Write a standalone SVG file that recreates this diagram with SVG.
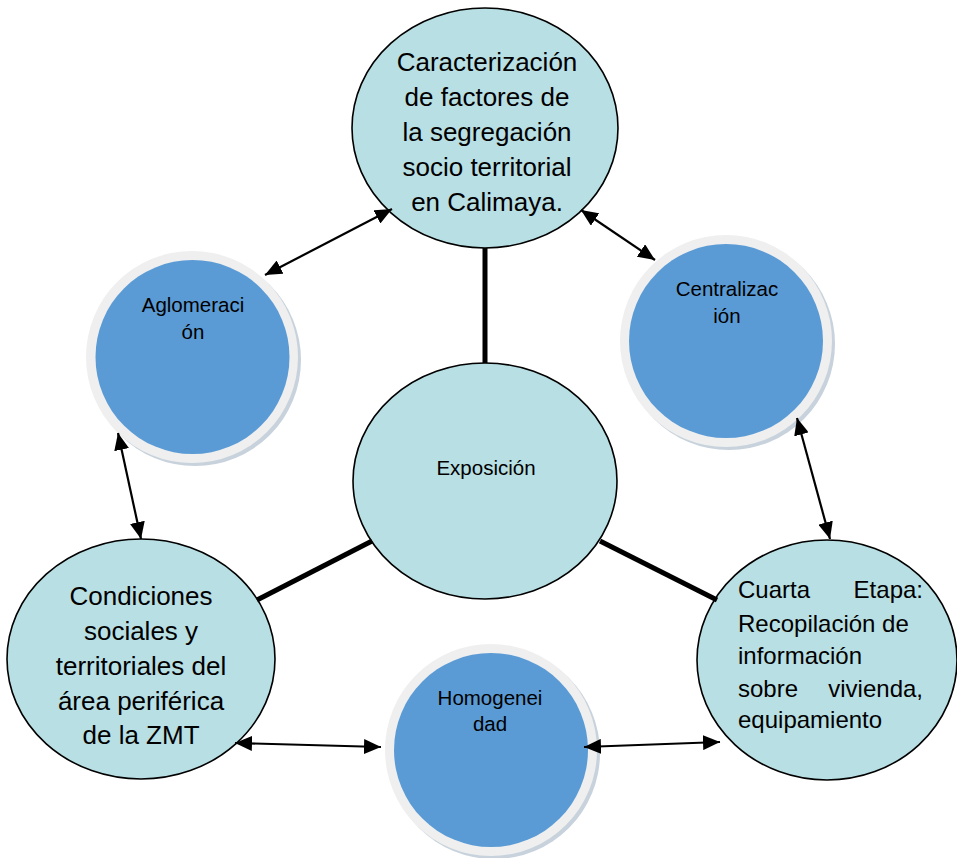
<svg xmlns="http://www.w3.org/2000/svg" width="957" height="858" viewBox="0 0 957 858">
<defs>
<style>
.ell{fill:#b8dfe3;stroke:#000;stroke-width:1.6}
.shadow{fill:#c7d2dc}
.ring{fill:#efefef}
.blue{fill:#5b9bd5}
.big{font-family:"Liberation Sans",Arial,sans-serif;font-size:26px;fill:#000;text-anchor:middle}
.mid{font-family:"Liberation Sans",Arial,sans-serif;font-size:24px;fill:#000}
.small{font-family:"Liberation Sans",Arial,sans-serif;font-size:20.5px;fill:#000;text-anchor:middle}
.thick{stroke:#000;stroke-width:5;fill:none}
.arr{stroke:#000;stroke-width:2.2;fill:none;marker-start:url(#ah);marker-end:url(#ah)}
</style>
<marker id="ah" markerUnits="userSpaceOnUse" markerWidth="17" markerHeight="15" refX="17" refY="7.5" orient="auto-start-reverse" viewBox="0 0 17 15">
<path d="M0,0 L17,7.5 L0,15 z" fill="#000"/>
</marker>
</defs>
<rect width="957" height="858" fill="#fff"/>
<g id="caracterizacion">
<ellipse class="ell" cx="485" cy="128" rx="133" ry="120"/>
<text class="big" x="487" y="71">Caracterización</text>
<text class="big" x="487" y="106">de factores de</text>
<text class="big" x="487" y="141">la segregación</text>
<text class="big" x="487" y="176">socio territorial</text>
<text class="big" x="487" y="211">en Calimaya.</text>
</g>
<g id="exposicion">
<ellipse class="ell" cx="485" cy="481" rx="132" ry="118"/>
<text class="small" x="486" y="475">Exposición</text>
</g>
<g id="aglomeracion">
<circle class="shadow" cx="195" cy="360" r="106"/>
<circle class="ring" cx="192" cy="357" r="106"/>
<circle class="blue" cx="192.5" cy="357" r="97"/>
<text class="small" x="193" y="312">Aglomeraci</text>
<text class="small" x="193" y="339">ón</text>
</g>
<g id="centralizacion">
<circle class="shadow" cx="729" cy="344" r="106"/>
<circle class="ring" cx="726" cy="341" r="106"/>
<circle class="blue" cx="726" cy="341" r="97"/>
<text class="small" x="727" y="296">Centralizac</text>
<text class="small" x="727" y="323">ión</text>
</g>
<g id="homogeneidad">
<circle class="shadow" cx="494" cy="753" r="106"/>
<circle class="ring" cx="491" cy="750" r="106"/>
<circle class="blue" cx="491" cy="750" r="97"/>
<text class="small" x="490" y="705">Homogenei</text>
<text class="small" x="490" y="731">dad</text>
</g>
<g id="condiciones">
<ellipse class="ell" cx="141" cy="659" rx="134" ry="120"/>
<text class="big" x="141" y="605">Condiciones</text>
<text class="big" x="141" y="640">sociales y</text>
<text class="big" x="141" y="675">territoriales del</text>
<text class="big" x="141" y="710">área periférica</text>
<text class="big" x="141" y="744">de la ZMT</text>
</g>
<g id="cuarta-etapa">
<ellipse class="ell" cx="827" cy="660" rx="130" ry="120"/>
<text class="mid" x="738" y="598">Cuarta</text>
<text class="mid" x="923" y="598" text-anchor="end">Etapa:</text>
<text class="mid" x="738" y="632">Recopilación de</text>
<text class="mid" x="738" y="664">información</text>
<text class="mid" x="738" y="697">sobre</text>
<text class="mid" x="923" y="697" text-anchor="end">vivienda,</text>
<text class="mid" x="738" y="728">equipamiento</text>
</g>
<g id="connectors">
<line class="thick" x1="485" y1="248" x2="485" y2="363"/>
<line class="thick" x1="257" y1="600" x2="372" y2="541"/>
<line class="thick" x1="600" y1="541" x2="717" y2="600"/>
<line class="arr" x1="392" y1="209" x2="265" y2="275"/>
<line class="arr" x1="581" y1="210" x2="655" y2="260"/>
<line class="arr" x1="118" y1="433" x2="141" y2="539"/>
<line class="arr" x1="797" y1="418" x2="830" y2="539"/>
<line class="arr" x1="235" y1="743" x2="381" y2="747"/>
<line class="arr" x1="584" y1="747" x2="720" y2="742"/>
</g>
</svg>
